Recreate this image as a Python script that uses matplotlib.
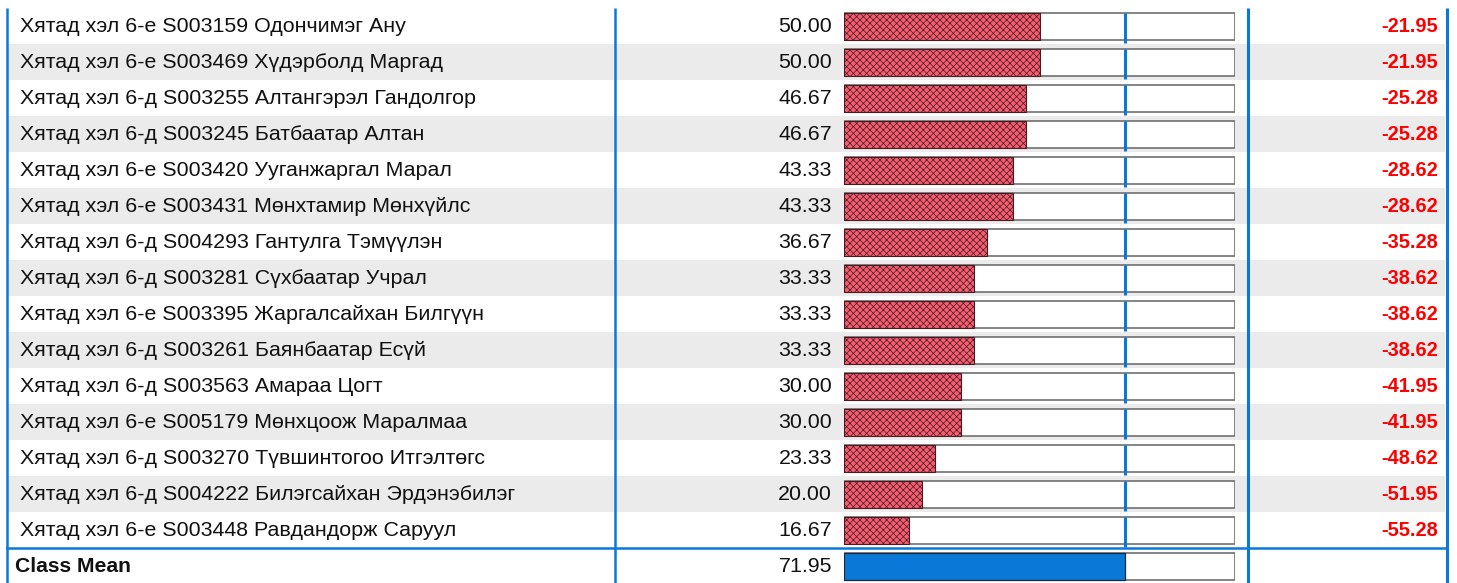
import matplotlib
matplotlib.use("Agg")
import matplotlib.pyplot as plt

plt.rcParams['font.family'] = ['Liberation Sans', 'DejaVu Sans']
plt.rcParams['hatch.linewidth'] = 0.5

labels = [
    "Хятад хэл 6-е S003159 Одончимэг Ану",
    "Хятад хэл 6-е S003469 Хүдэрболд Маргад",
    "Хятад хэл 6-д S003255 Алтангэрэл Гандолгор",
    "Хятад хэл 6-д S003245 Батбаатар Алтан",
    "Хятад хэл 6-е S003420 Ууганжаргал Марал",
    "Хятад хэл 6-е S003431 Мөнхтамир Мөнхүйлс",
    "Хятад хэл 6-д S004293 Гантулга Тэмүүлэн",
    "Хятад хэл 6-д S003281 Сүхбаатар Учрал",
    "Хятад хэл 6-е S003395 Жаргалсайхан Билгүүн",
    "Хятад хэл 6-д S003261 Баянбаатар Есүй",
    "Хятад хэл 6-д S003563 Амараа Цогт",
    "Хятад хэл 6-е S005179 Мөнхцоож Маралмаа",
    "Хятад хэл 6-д S003270 Түвшинтогоо Итгэлтөгс",
    "Хятад хэл 6-д S004222 Билэгсайхан Эрдэнэбилэг",
    "Хятад хэл 6-е S003448 Равдандорж Саруул",
]
scores = [50.00, 50.00, 46.67, 46.67, 43.33, 43.33, 36.67, 33.33, 33.33, 33.33,
          30.00, 30.00, 23.33, 20.00, 16.67]
diffs = [-21.95, -21.95, -25.28, -25.28, -28.62, -28.62, -35.28, -38.62, -38.62,
         -38.62, -41.95, -41.95, -48.62, -51.95, -55.28]
mean_label = "Class Mean"
class_mean = 71.95
max_score = 100

W, H = 1457, 583
fig = plt.figure(figsize=(W / 100, H / 100), dpi=100)

# table layer in pixel coordinates
ax = fig.add_axes([0, 0, 1, 1])
ax.set_xlim(0, W)
ax.set_ylim(H, 0)
ax.axis('off')

top = 8
pitch = 36
blue = '#0a78d6'
fs = 15.4
fs_red = 14.4
fs_mean = 15.2

n = len(labels)
for i in range(n):
    y0 = top + pitch * i
    yc = y0 + pitch / 2
    if i % 2 == 1:
        ax.fill_between([8, 1445], y0, y0 + pitch, color='#ebebeb', lw=0, zorder=0)
    ax.text(20, yc + 1, labels[i], fontsize=fs, va='center', ha='left', color='#111111')
    ax.text(832, yc + 1, f"{scores[i]:.2f}", fontsize=fs, va='center', ha='right', color='#111111')
    ax.text(1438, yc + 1, f"{diffs[i]:.2f}", fontsize=fs_red, va='center', ha='right',
            color='#ff0000', fontweight='bold')

yc = top + pitch * n + pitch / 2
ax.text(15, yc + 1, mean_label, fontsize=fs_mean, va='center', ha='left', color='#111111', fontweight='bold')
ax.text(832, yc + 1, f"{class_mean:.2f}", fontsize=fs, va='center', ha='right', color='#111111')

# grid lines
for x in [7, 615, 1248, 1447]:
    ax.plot([x, x], [top, H], color=blue, lw=2.2 if x in (1248, 1447) else 1.8,
            solid_capstyle='butt', zorder=5)
ax.plot([7, 1447], [top + pitch * n, top + pitch * n], color=blue, lw=1.8, zorder=5)

# bar layer
bx0, bx1 = 844, 1235
bax = fig.add_axes([bx0 / W, (H - (top + pitch * (n + 1))) / H, (bx1 - bx0) / W, pitch * (n + 1) / H])
bax.set_xlim(0, max_score)
bax.set_ylim(n + 0.5, -0.5)
bax.axis('off')
bax.patch.set_alpha(0)

rows = list(range(n))
h = 0.75
# background boxes
bax.barh(rows + [n], [max_score] * (n + 1), height=h, color='white',
         edgecolor='#6f6f6f', lw=1.2, zorder=1)
bax.barh(rows, scores, height=h, color='#f45e70', edgecolor='#4a1a22',
         hatch='xxxxx', lw=0.8, zorder=2)
bax.barh([n], [class_mean], height=h, color=blue, edgecolor='#1a2a40', lw=0.9, zorder=2)
for i in rows:
    bax.plot([class_mean, class_mean], [i - h / 2, i + 0.47], color=blue, lw=2.2,
             solid_capstyle='butt', zorder=3)

fig.savefig('out.png', dpi=100)
